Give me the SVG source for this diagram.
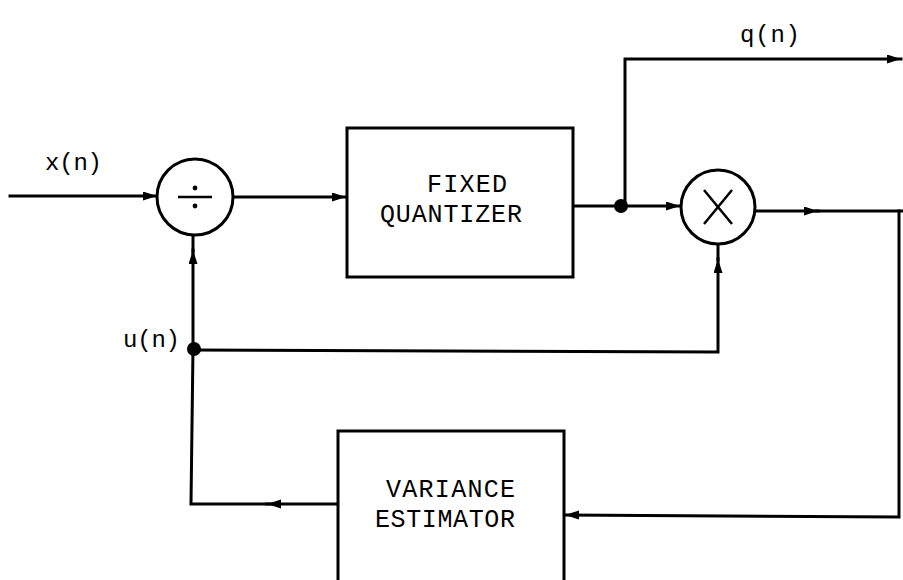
<svg xmlns="http://www.w3.org/2000/svg" width="903" height="580" viewBox="0 0 903 580">
  <style>
    .ln { fill: none; stroke: #000; stroke-width: 3; stroke-linecap: square; stroke-linejoin: miter; }
    .box { fill: #fff; stroke: #000; stroke-width: 3; }
    .op { fill: #fff; stroke: #000; stroke-width: 3; }
    .sym { fill: none; stroke: #000; stroke-width: 2.5; }
    .t { font-family: "Liberation Mono", "DejaVu Sans Mono", monospace; font-size: 24px; fill: #000; }
    .tb { font-family: "Liberation Mono", "DejaVu Sans Mono", monospace; font-size: 25px; fill: #000; }
    .dot { fill: #000; }
  </style>
  <defs>
    <marker id="arr" markerUnits="userSpaceOnUse" markerWidth="16" markerHeight="10" refX="14" refY="4.5" orient="auto">
      <path d="M0,0 L14,4.5 L0,9 z" fill="#000"/>
    </marker>
  </defs>
  <rect width="903" height="580" fill="#fff"/>

  <g id="connectors">
    <path class="ln" d="M10,196 L157,196" marker-end="url(#arr)"/>
    <path class="ln" d="M233,197 L346,197" marker-end="url(#arr)"/>
    <path class="ln" d="M573,206 L621,206"/>
    <path class="ln" d="M621,206 L680,206" marker-end="url(#arr)"/>
    <path class="ln" d="M625,206 L625,59 L901,59" marker-end="url(#arr)"/>
    <path class="ln" d="M755,211 L818,211" marker-end="url(#arr)"/>
    <path class="ln" d="M816,211 L903,211"/>
    <path class="ln" d="M899,211 L899,517 L565,515" marker-end="url(#arr)"/>
    <path class="ln" d="M338,504 L267,504" marker-end="url(#arr)"/>
    <path class="ln" d="M270,504 L191,504 L193,348"/>
    <path class="ln" d="M193,348 L193,250" marker-end="url(#arr)"/>
    <path class="ln" d="M193,252 L193,235"/>
    <path class="ln" d="M193,350 L718,352 L718,259" marker-end="url(#arr)"/>
    <path class="ln" d="M718,260 L718,245"/>
  </g>

  <g id="divider">
    <circle class="op" cx="195" cy="197" r="38"/>
    <line class="sym" x1="178" y1="197" x2="212" y2="197"/>
    <circle class="dot" cx="195" cy="188" r="2.4"/>
    <circle class="dot" cx="195" cy="206" r="2.4"/>
  </g>

  <g id="fixed-quantizer">
    <rect class="box" x="347" y="128" width="226" height="149"/>
    <text class="tb" x="427" y="192" textLength="80" lengthAdjust="spacing">FIXED</text>
    <text class="tb" x="380" y="222" textLength="142" lengthAdjust="spacing">QUANTIZER</text>
  </g>

  <g id="junction-q">
    <circle class="dot" cx="621" cy="206" r="7"/>
  </g>

  <g id="multiplier">
    <circle class="op" cx="718" cy="207" r="37"/>
    <line class="sym" x1="704" y1="190" x2="732" y2="224"/>
    <line class="sym" x1="732" y1="190" x2="704" y2="224"/>
  </g>

  <g id="junction-u">
    <circle class="dot" cx="194" cy="349" r="7"/>
  </g>

  <g id="variance-estimator">
    <rect class="box" x="338" y="431" width="226" height="160"/>
    <text class="tb" x="386" y="497" textLength="129" lengthAdjust="spacing">VARIANCE</text>
    <text class="tb" x="375" y="527" textLength="140" lengthAdjust="spacing">ESTIMATOR</text>
  </g>

  <g id="labels">
    <text class="t" x="45" y="170" textLength="57" lengthAdjust="spacing">x(n)</text>
    <text class="t" x="740" y="42" textLength="60" lengthAdjust="spacing">q(n)</text>
    <text class="t" x="123" y="347" textLength="57" lengthAdjust="spacing">u(n)</text>
  </g>
</svg>
